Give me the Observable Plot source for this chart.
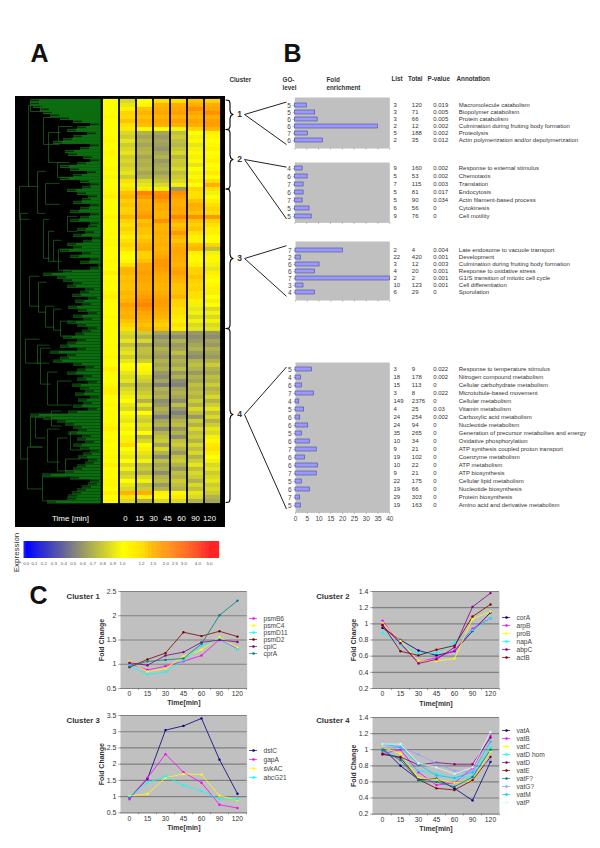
<!DOCTYPE html>
<html>
<head>
<meta charset="utf-8">
<script src="https://cdn.jsdelivr.net/npm/d3@7"></script>
<script src="https://cdn.jsdelivr.net/npm/@observablehq/plot@0.6"></script>
<style>
html,body{margin:0;padding:0;background:#fff;overflow:hidden}
#page{position:relative;width:600px;height:848px;overflow:hidden}
#page>div{position:absolute}
svg{display:block}
</style>
</head>
<body>
<div id="page"></div>
<script>
// ---------- DATA: panel A heat map (fold change, one value per row band) ----------
const times = [0, 15, 30, 45, 60, 90, 120];
const clusterRows = [8, 15, 35, 43];
const t0 = [1,1,1,1,1.05,1,1,1,
  1,1.02,1.05,1,1,1.05,1.02,1,1,1.05,1,.97,1,1,1.02,
  1.05,1.1,1,1,1.02,1,1.08,1,1,1,1.02,1,.98,1.05,1,1,1,1.02,1,1,1.1,1,1.02,1,1,1.05,1.1,1.02,1,1,1,1.05,1,1.02,1,
  1,1,1,1.02,1,1,1.05,1,1,1.1,1.02,1,1,1.05,1.1,1.1,1,1,1.05,1,1.02,1,1,1.05,1.1,1.02,1,1.05,1,1.02,1,1.05,1,1.1,1,1.02,1,1.05,1.05,1,1.1,1,1.05];
const t15 = [.85,.9,1.1,1.3,1.25,1.4,1.2,1.15,
  .85,.8,.9,.8,.85,.9,.8,.85,.8,.85,.9,.8,1.2,.95,1.2,
  1.4,1.5,1.3,1.4,1.3,1.3,1.5,1.3,1.2,1.3,1.2,1.1,1.2,1.3,1.2,1.05,1,1.05,1.2,1.5,1.5,1.4,1.45,1.4,1.4,1.5,1.45,1.5,1.8,1.6,1.5,1.6,1.4,1.3,1.2,
  .85,.8,.9,.75,.85,.9,.8,.9,1,1.05,.9,.85,.9,.75,.85,.9,.95,1,.9,.85,1,.95,.9,1.05,.95,1,.95,1.1,1.25,1,.95,.9,1,.85,.95,.8,.85,1,.9,.85,1.5,1.2,.85];
const t30 = [1,1.05,1.4,1.5,1.4,1.5,1.45,1.05,
  .7,.65,.7,.65,.7,.72,.65,.7,.68,.72,.65,.7,.85,.9,1.1,
  2.2,1.9,1.5,1.6,1.6,1.7,1.9,1.4,1.5,1.4,1.4,1.3,1.4,1.5,1.6,1.3,1.3,1.4,1.7,1.7,1.8,1.7,1.7,1.6,1.6,1.7,1.8,2,2.2,1.9,1.7,1.6,1.5,1.4,1.5,
  .8,.7,.85,.65,.75,.75,.7,.8,1,1.05,.95,.85,.8,.7,.75,.8,.85,.7,.9,.75,1,.85,.8,.9,.85,1,.75,.85,1,1.1,.9,.85,.95,.75,.8,.7,.85,.95,.75,.8,1.6,1.1,.7];
const t45 = [1.2,1.5,1.6,1.7,1.5,1.7,1.6,1,
  .65,.6,.65,.62,.58,.65,.7,.6,.65,.68,.62,.7,.75,.85,.95,
  2,2.2,1.8,1.6,1.6,1.5,1.5,2,1.5,1.5,1.6,1.5,1.5,1.6,1.5,1.6,1.7,1.9,1.9,1.8,1.7,1.6,1.6,1.5,1.5,1.6,1.7,1.8,1.8,1.7,1.6,1.5,1.4,1.3,1.4,
  .65,.55,.65,.6,.7,.65,.6,.7,.65,.7,.6,.55,.65,.5,.7,.65,.7,.55,.6,.7,.65,.5,.65,.7,.55,.7,.75,.8,.65,.85,.7,.55,.75,.65,.7,.55,.7,.75,.6,.7,1.1,1.05,.85];
const t60 = [1.2,1.6,1.7,1.8,1.5,1.8,1.6,.95,
  .75,.8,.75,.72,.78,.85,.72,.8,.78,.85,.75,.8,.85,.95,.6,
  2,1.8,1.6,1.6,1.7,1.6,2.2,1.6,1.4,1.5,1.9,1.5,1.4,1.6,1.7,1.7,1.6,1.6,1.5,1.7,1.8,1.6,1.5,1.4,1.4,1.4,1.5,1.3,1.3,1.2,1.2,1.15,1.1,1.2,1.1,
  .65,.55,.7,.6,.65,.75,.62,.7,.65,.75,.6,.7,.55,.5,.65,.7,.65,.55,.75,.6,.5,.6,.7,.75,.6,.7,.55,.75,.8,.7,.6,.75,.8,.7,.6,.75,.7,.8,.75,.7,1.05,1.15,.85];
const t90 = [1.4,1.6,2,1.7,1.5,1.7,1.6,1.3,
  1,.95,1.05,.9,.95,1.05,.95,1.05,.9,1,.95,1.05,1.15,1,1.3,
  1.2,1.2,1.4,1.6,1.5,1.4,2,1.4,1.3,1.4,1.2,1.1,1.1,1.4,1.5,1.1,1.05,1.05,1.1,1.3,1.3,1.4,1.3,1.25,1.3,1.2,1.2,1.1,.95,.9,.95,.85,.95,.85,.9,
  .6,.55,.6,.65,.7,.6,.55,.7,.75,.7,.6,.7,.65,.75,.7,.75,.7,.8,.7,.85,.75,.6,.8,.7,.85,.75,.8,.7,.85,.75,.85,.7,.8,.9,.75,.85,.8,.7,.85,.75,.9,.85,.7];
const t120 = [1.3,1.6,1.7,2,1.6,1.8,1.8,1.5,
  1.1,1.05,1,1.05,1.1,1,1.05,1.1,1,1.05,1.15,1,1.2,1.6,1.2,
  .95,1,1.1,1.2,1.3,1.2,1.9,1.3,1.2,1.1,1.1,1,1,1.3,.75,.95,1.05,1.05,.95,.9,1.1,1.05,1,1.05,1.1,.95,1,.95,1,.85,.95,.85,.95,.85,.9,
  .6,.55,.65,.6,.7,.65,.6,.7,.8,.7,.65,.75,.7,.8,.7,.75,.85,.7,.8,.9,.75,.85,.7,.8,.9,.85,.95,1.05,1.15,1.2,1.1,1,.95,.85,.9,.8,.85,.9,.8,.85,.8,.7,.65];

// Dendrogram: depth at which each leaf starts
const leafStart = [32,52,53,57,62,67,73,75,55,27,
  50,58,62,70,73,63,68,75,65,58,70,62,67,53,63,58,50,42,28,15,
  53,73,58,68,63,75,60,70,65,57,73,62,68,52,62,70,58,
  38,45,52,35,62,45,52,62,48,60,67,73,62,52,68,58,73,63,53,67,60,73,57,65,70,52,58,48,42,28,
  48,75,83,65,75,55,67,45,58,52,68,77,58,70,62,73,75,55,65,75,
  55,65,75,58,67,73,62,52,67,75,65,45,58,72,55,45,62,75,68,53,50,65,75,38,48,58,72,52,62,75,58,45,35,28,25,18,15,15];
// Dendrogram branches: depth, first leaf, last leaf, length of the arm
const branchDepth = [5,12,27,15,32,42,50,10,22,32,42,25,14,23,30,38,45,28,33,38,43,52,4,13,22,30,33,28,42,43,15,25,20,36,55];
const branchFrom  = [15,5,1,19,14,11,11,47,47,33,33,40,66,64,59,58,56,82,81,81,78,91,95,106,97,100,114,120,109,121,131,131,22,26,18];
const branchTo    = [97,19,9,29,25,22,15,55,53,44,41,52,76,74,66,65,61,95,91,88,85,96,106,133,111,107,124,129,114,126,134,134,29,31,24];
const branchArm   = [8,15,25,12,12,10,15,14,12,10,14,10,10,8,9,8,12,6,6,8,12,10,10,10,8,14,12,16,12,14,12,12,10,10,12];

// Expression legend
const legendTicks = [0,.1,.2,.3,.4,.5,.6,.7,.8,.9,1,1.2,1.5,2,2.5,3,4,5];
const legendLabels = ["0.0","0.1","0.2","0.3","0.4","0.5","0.6","0.7","0.8","0.9","1.0","1.2","1.5","2.0","2.5","3.0","4.0","5.0"];
const colorDomain = [0,.5,1,1.5,2,3,5];
const colorRange = ["#0000ff","#808080","#ffff00","#ffb400","#ff9000","#ff6000","#ff0000"];

// ---------- DATA: panel B enrichment ----------
const goLevel1 = [5,5,6,6,7,6];
const fold1 = [5.1,8.6,9.6,35,5.5,11.9];
const list1 = ["3","3","3","2","5","2"];
const total1 = ["120","71","66","12","188","35"];
const pval1 = ["0.019","0.005","0.005","0.002","0.002","0.012"];
const annot1 = ["Macromolecule catabolism","Biopolymer catabolism","Protein catabolism","Culmination during fruiting body formation","Proteolysis","Actin polymerization and/or depolymerization"];

const goLevel2 = [4,6,7,6,7,5,5];
const fold2 = [3.3,5.4,3.7,3.7,3.3,6.2,7.1];
const list2 = ["9","5","7","5","5","6","9"];
const total2 = ["160","53","115","81","90","56","76"];
const pval2 = ["0.002","0.002","0.003","0.017","0.034","0","0"];
const annot2 = ["Response to external stimulus","Chemotaxis","Translation","Endocytosis","Actin filament-based process","Cytokinesis","Cell motility"];

const goLevel3 = [7,2,6,6,7,3,4];
const fold3 = [20.2,2.4,10.2,8.3,40,3.4,8.3];
const list3 = ["2","22","3","4","2","10","6"];
const total3 = ["4","420","12","20","2","123","29"];
const pval3 = ["0.004","0.001","0.003","0.001","0.001","0.001","0"];
const annot3 = ["Late endosome to vacuole transport","Development","Culmination during fruiting body formation","Response to oxidative stress","G1/S transition of mitotic cell cycle","Cell differentiation","Sporulation"];

const goLevel4 = [5,4,6,7,4,5,6,6,5,6,7,6,6,7,5,6,7,5];
const fold4 = [7,2.4,2.8,7.9,1.6,3.7,2,5.4,2.8,6.2,9,4.1,9.6,9,2.7,6.2,2,2.4];
const list4 = ["3","18","15","3","149","4","24","24","35","10","9","19","10","9","22","19","29","19"];
const total4 = ["9","178","113","8","2376","25","254","94","265","34","21","102","22","21","175","66","303","163"];
const pval4 = ["0.022","0.002","0","0.022","0","0.03","0.002","0","0","0","0","0","0","0","0","0","0","0"];
const annot4 = ["Response to temperature stimulus","Nitrogen compound metabolism","Cellular carbohydrate metabolism","Microtubule-based movement","Cellular metabolism","Vitamin metabolism","Carboxylic acid metabolism","Nucleotide metabolism","Generation of precursor metabolites and energy","Oxidative phosphorylation","ATP synthesis coupled proton transport","Coenzyme metabolism","ATP metabolism","ATP biosynthesis","Cellular lipid metabolism","Nucleotide biosynthesis","Protein biosynthesis","Amino acid and derivative metabolism"];
const foldTicks = [0,5,10,15,20,25,30,35,40];

// ---------- DATA: panel C profiles ----------
const psmB6 = [1.02,.88,.96,1.06,1.18,1.51,1.32];
const psmC4 = [1.06,.85,.91,1.16,1.3,1.56,1.34];
const psmD11 = [.97,.79,.84,1.08,1.38,1.52,1.3];
const psmD2 = [.94,1.1,1.23,1.66,1.58,1.68,1.57];
const cpiC = [1.03,.98,1.18,1.25,1.45,1.5,1.46];
const cprA = [.95,1.06,1.09,1.12,1.42,2.01,2.31];

const corA = [.95,.8,.67,.61,.66,.91,1.14];
const arpB = [1.04,.75,.53,.58,.67,.94,1.07];
const proB = [1.01,.79,.54,.54,.57,1.06,1.15];
const napA = [.89,.74,.63,.64,.77,.92,1.07];
const abpC = [.98,.76,.51,.56,.71,1.21,1.38];
const actB = [.99,.66,.61,.68,.73,1.09,1.24];

const dstC = [.97,1.55,3.05,3.18,3.41,2.14,1.09];
const gapA = [.92,1.58,2.31,1.75,1.43,.75,.65];
const svkAC = [1.03,1.08,1.58,1.7,1.68,1.03,.89];
const abcG21 = [1,1.43,1.63,1.35,1.17,.92,.92];

const vatA = [1.02,.8,.63,.64,.52,.37,.85];
const vatB = [.95,1,.72,.56,.59,.77,1.17];
const vatC = [1.03,.95,.65,.63,.59,.61,.98];
const vatDhom = [.98,.9,.74,.7,.64,.67,1.03];
const vatD = [.94,.91,.81,.84,.82,.82,1.15];
const vatE = [.95,.9,.63,.52,.5,.62,.91];
const vatF = [.99,.87,.62,.6,.54,.66,1];
const vatG = [1.02,1.03,.94,.83,.74,.72,.87];
const vatM = [1.07,1.03,.82,.68,.65,.72,1.1];
const vatP = [1.07,1.07,.83,.78,.7,.78,1.22];

// ---------- LAYOUT ----------
const FONT = "'Liberation Sans', Arial, sans-serif";
const page = document.getElementById("page");
function place(node, left, top) {
  const d = document.createElement("div");
  d.style.left = left + "px"; d.style.top = top + "px";
  d.appendChild(node); page.appendChild(d);
}
const baseStyle = {fontFamily: FONT, background: "transparent", overflow: "visible"};

// Heat map
const heat = {left: 15, top: 96, width: 210, height: 431, colLeft: 100.7, colRight: 223, rowTop: 99, rowBottom: 503.5};
const allCols = [t0, t15, t30, t45, t60, t90, t120];
const heatCells = allCols.flatMap((col, j) => col.map((v, i) => ({time: times[j], row: i, v})));
const colorScale = {type: "linear", domain: colorDomain, range: colorRange, interpolate: "rgb"};

place(Plot.plot({
  width: heat.width, height: heat.height,
  marginLeft: heat.colLeft - heat.left, marginRight: heat.left + heat.width - heat.colRight,
  marginTop: heat.rowTop - heat.top, marginBottom: heat.top + heat.height - heat.rowBottom,
  style: {...baseStyle, background: "#000"},
  x: {type: "band", domain: times, padding: 0.09, align: 0.5, axis: null},
  y: {type: "band", domain: d3.range(t0.length), padding: 0, axis: null},
  color: colorScale,
  marks: [Plot.cell(heatCells, {x: "time", y: "row", fill: "v", stroke: "v", strokeWidth: 0.2})]
}), heat.left, heat.top);

// Dendrogram
const treeW = heat.colLeft - heat.left;
const leaves = leafStart.map((d, i) => ({d, i}));
const branches = branchDepth.map((d, k) => ({d, a: branchFrom[k], b: branchTo[k], arm: branchArm[k]}));
place(Plot.plot({
  width: treeW, height: heat.rowBottom - heat.rowTop,
  margin: 0,
  style: baseStyle,
  x: {domain: [0, treeW], axis: null},
  y: {domain: [0, leafStart.length], axis: null},
  marks: [
    Plot.rect(leaves, {x1: "d", x2: treeW, y1: "i", y2: d => d.i + 1, fill: "#0b6d10"}),
    Plot.rect(leaves, {x1: "d", x2: d => Math.min(treeW, d.d + 9), y1: d => d.i + 0.3, y2: d => d.i + 0.8, fill: "#0a2f0a"}),
    Plot.link(branches, {x1: "d", x2: "d", y1: "a", y2: "b", stroke: "#1f6a22", strokeWidth: 0.7}),
    Plot.link(branches, {x1: "d", x2: d => d.d + d.arm, y1: "a", y2: "a", stroke: "#1f6a22", strokeWidth: 0.7}),
    Plot.link(branches, {x1: "d", x2: d => d.d + d.arm, y1: "b", y2: "b", stroke: "#1f6a22", strokeWidth: 0.7})
  ]
}), heat.left, heat.rowTop);

// Time labels below the heat map
place(Plot.plot({
  width: heat.width, height: 20,
  marginLeft: 101, marginRight: 8, marginTop: 0, marginBottom: 0,
  style: baseStyle,
  x: {type: "point", domain: times, axis: null},
  y: {domain: [0, 1], axis: null},
  marks: [
    Plot.text(times, {x: d => d, frameAnchor: "middle", fill: "#fff", fontSize: 7.8}),
    Plot.text(["Time [min]"], {frameAnchor: "left", dx: -46, textAnchor: "middle", fill: "#fff", fontSize: 8})
  ]
}), heat.left, 508);

// Colour legend
const legendStops = d3.range(-0.1, 5.6, 0.02);
place(Plot.plot({
  width: 230, height: 30,
  marginTop: 0, marginBottom: 0,
  style: baseStyle,
  x: {type: "linear", domain: [-0.08, ...legendTicks, 5.6],
      range: [24, 25.7, 34, 43.3, 53.3, 63.3, 72.7, 82.3, 92.3, 102.3, 112.3, 122, 141, 152.7, 165.3, 174.3, 183.3, 197.3, 209, 219], axis: null},
  y: {domain: [0, 30], range: [0, 30], axis: null},
  color: colorScale,
  marks: [
    Plot.rect(legendStops, {x1: d => d, x2: d => d + 0.03, y1: 0, y2: 17, fill: d => Math.max(0, Math.min(5, d)), clip: true}),
    Plot.text(legendTicks, {x: d => d, y: 22.5, text: (d, i) => legendLabels[i], fontSize: 4.4, fill: "#555"})
  ]
}), 0, 541);

// Panel B bar blocks
const barBlocks = [
  {top: 97.3, bottom: 148.3, left: 294.3, go: goLevel1, fold: fold1, list: list1, total: total1, p: pval1, ann: annot1},
  {top: 162.3, bottom: 222.7, left: 294.3, go: goLevel2, fold: fold2, list: list2, total: total2, p: pval2, ann: annot2},
  {top: 241, bottom: 300, left: 295, go: goLevel3, fold: fold3, list: list3, total: total3, p: pval3, ann: annot3},
  {top: 362.3, bottom: 512.7, left: 295, go: goLevel4, fold: fold4, list: list4, total: total4, p: pval4, ann: annot4, labels: true}
];
const tableRight = 389.3;
barBlocks.forEach(b => {
  const n = b.fold.length;
  const rows = d3.range(n).map(i => ({i, go: b.go[i], fold: b.fold[i], list: b.list[i], total: b.total[i], p: b.p[i], ann: b.ann[i]}));
  const bottomExtra = b.labels ? 14 : 4;
  const left = 270;
  const rowText = (key, dx) => Plot.text(rows, {y: "i", frameAnchor: "right", dx, textAnchor: "start", text: key, fontSize: 6, fill: "#333"});
  place(Plot.plot({
    width: 330, height: b.bottom - b.top + bottomExtra,
    marginLeft: b.left - left, marginRight: 600 - tableRight,
    marginTop: 0, marginBottom: bottomExtra,
    style: baseStyle,
    x: {domain: [0, 40], axis: null},
    y: {type: "band", domain: d3.range(n), padding: 0.5, axis: null},
    marks: [
      Plot.frame({fill: "#c0c0c0", stroke: "none"}),
      Plot.barX(rows, {x: "fold", y: "i", fill: "#9999ff", stroke: "#4a4a90", strokeWidth: 0.6}),
      Plot.axisX({ticks: foldTicks, anchor: "bottom", tickSize: 1.5, tickPadding: 1.5, stroke: "#777", strokeWidth: 0.5,
                  fontSize: 6.5, fill: "#444", tickFormat: b.labels ? d => d : () => "", label: null}),
      Plot.axisY({anchor: "left", tickSize: 1.5, stroke: "#777", strokeWidth: 0.5, tickFormat: () => "", label: null}),
      Plot.text(rows, {y: "i", frameAnchor: "left", dx: -4, textAnchor: "end", text: "go", fontSize: 6.5, fill: "#444"}),
      rowText("list", 3.7),
      rowText("total", 22),
      rowText("p", 43.4),
      rowText("ann", 69)
    ]
  }), left, b.top);
});

// Panel C line charts
const seriesCharts = [
  {title: "Cluster 1", left: 120, right: 246.7, top: 591, bottom: 688, domain: [.5, 2.5], yTicks: [.5, 1, 1.5, 2, 2.5],
   names: ["psmB6","psmC4","psmD11","psmD2","cpiC","cprA"], values: [psmB6,psmC4,psmD11,psmD2,cpiC,cprA],
   colors: ["#ff00ff","#ffff00","#00ffff","#800000","#800080","#008080"], legendTop: 613, legendBottom: 658},
  {title: "Cluster 2", left: 372, right: 499, top: 591, bottom: 688, domain: [.2, 1.4], yTicks: [.2,.4,.6,.8,1,1.2,1.4],
   names: ["corA","arpB","proB","napA","abpC","actB"], values: [corA,arpB,proB,napA,abpC,actB],
   colors: ["#000080","#ff00ff","#ffff00","#00ffff","#800080","#800000"], legendTop: 611, legendBottom: 663},
  {title: "Cluster 3", left: 120, right: 246.7, top: 715.3, bottom: 812.7, domain: [.5, 3.5], yTicks: [.5,1,1.5,2,2.5,3,3.5],
   names: ["dstC","gapA","svkAC","abcG21"], values: [dstC,gapA,svkAC,abcG21],
   colors: ["#000080","#ff00ff","#ffff00","#00ffff"], legendTop: 745, legendBottom: 782},
  {title: "Cluster 4", left: 372, right: 499, top: 716.7, bottom: 813.3, domain: [.2, 1.4], yTicks: [.2,.4,.6,.8,1,1.2,1.4],
   names: ["vatA","vatB","vatC","vatD hom","vatD","vatE","vatF?","vatG?","vatM","vatP"],
   values: [vatA,vatB,vatC,vatDhom,vatD,vatE,vatF,vatG,vatM,vatP],
   colors: ["#000080","#ff00ff","#ffff00","#00ffff","#800080","#800000","#008080","#9999ff","#00ccff","#ccffff"], legendTop: 725, legendBottom: 806}
];
seriesCharts.forEach(c => {
  const mLeft = 24, mBottom = 19, mTop = 3;
  const long = c.names.flatMap((name, s) => c.values[s].map((v, k) => ({name, t: times[k], v, c: c.colors[s]})));
  const w = c.right - c.left;
  const h = c.bottom - c.top;
  const stepX = w / times.length;
  place(Plot.plot({
    width: mLeft + w + 2, height: mTop + h + mBottom,
    marginLeft: mLeft, marginRight: 2, marginTop: mTop, marginBottom: mBottom,
    style: baseStyle,
    x: {type: "point", domain: times, padding: 0.5, axis: null},
    y: {domain: c.domain, axis: null},
    marks: [
      Plot.frame({fill: "#c0c0c0", stroke: "none"}),
      Plot.gridY(c.yTicks, {stroke: "#808080", strokeOpacity: 1, strokeWidth: 1.2}),
      Plot.axisX({tickSize: 0, tickPadding: 3, fontSize: 6.8, fill: "#333", label: null, stroke: "none"}),
      Plot.axisX({tickSize: 2, dx: stepX / 2, tickFormat: () => "", label: null, stroke: "#555", strokeWidth: 0.5}),
      Plot.axisY({ticks: c.yTicks, tickSize: 2, tickPadding: 2, fontSize: 7, fill: "#333", tickFormat: d => String(d), label: null, stroke: "#555", strokeWidth: 0.5}),
      ...c.names.map((name, s) => Plot.line(long.filter(d => d.name === name), {x: "t", y: "v", stroke: c.colors[s], strokeWidth: 0.8})),
      Plot.dot(long, {x: "t", y: "v", r: 1.2, fill: "c", stroke: "none"}),
      Plot.text(["Time[min]"], {frameAnchor: "bottom", dy: 17, lineAnchor: "bottom", fontSize: 7, fontWeight: "bold", fill: "#333"}),
      Plot.text(["Fold Change"], {frameAnchor: "left", dx: -19, rotate: -90, textAnchor: "middle", fontSize: 7, fontWeight: "bold", fill: "#333"})
    ]
  }), c.left - mLeft, c.top - mTop);

  // series legend as a small plot of its own
  place(Plot.plot({
    width: 60, height: c.legendBottom - c.legendTop + 8,
    margin: 0, marginTop: 4, marginBottom: 4,
    style: baseStyle,
    x: {domain: [0, 60], axis: null},
    y: {type: "point", domain: c.names, axis: null},
    marks: [
      Plot.ruleY(c.names, {y: d => d, x1: 2, x2: 10, stroke: (d, i) => c.colors[i], strokeWidth: 0.7}),
      Plot.dot(c.names, {y: d => d, x: 6, r: 1.3, fill: (d, i) => c.colors[i]}),
      Plot.text(c.names, {y: d => d, x: 16, textAnchor: "start", fontSize: 6.6, fill: "#444"})
    ]
  }), c.right + 0.5, c.legendTop - 4);
});

// Page-level overlay: letters, headers, cluster braces and connectors
const bandCentre = (b, i) => {
  const step = (b.bottom - b.top) / b.fold.length;
  return b.top + step * (i + 0.5);
};
const clusterLabelY = [114, 159, 258, 414];
const braceSpineX = 229.5, braceEndX = 225.5, braceTipX = 232.5;
const braceY = [99.5, 129, 188.5, 328, 502];
const braces = clusterLabelY.map((tip, c) => {
  const a = braceY[c], b = braceY[c + 1];
  return [
    [braceEndX, a], [braceSpineX - 1, a + 0.5], [braceSpineX, a + 3], [braceSpineX, tip - 4], [braceSpineX + 1, tip - 1], [braceTipX, tip],
    [braceSpineX + 1, tip + 1], [braceSpineX, tip + 4], [braceSpineX, b - 3], [braceSpineX - 1, b - 0.5], [braceEndX, b]
  ].map(([x, y]) => ({x, y, c}));
}).flat();
const connectors = barBlocks.flatMap((b, c) => [
  {x1: 244, y1: clusterLabelY[c], x2: 286, y2: bandCentre(b, 0)},
  {x1: 244, y1: clusterLabelY[c], x2: 286, y2: bandCentre(b, b.fold.length - 1)}
]);
const smallHeads = [
  {t: "Cluster", x: 229, y: 79.5}, {t: "GO-", x: 282, y: 79.5}, {t: "level", x: 282, y: 87.5},
  {t: "Fold", x: 326, y: 79.5}, {t: "enrichment", x: 326, y: 87.5},
  {t: "List", x: 391, y: 78.5}, {t: "Total", x: 407.5, y: 78.5}, {t: "P-value", x: 427, y: 78.5}, {t: "Annotation", x: 456, y: 78.5}
];
const bigHeads = [{t: "A", x: 30, y: 53}, {t: "B", x: 283, y: 53}, {t: "C", x: 29, y: 595}];
const clusterTitles = seriesCharts.map((c, i) => ({t: c.title, x: i % 2 ? 315.7 : 66, y: i < 2 ? 595.5 : 720}));
place(Plot.plot({
  width: 600, height: 848, margin: 0,
  style: {...baseStyle, pointerEvents: "none"},
  x: {domain: [0, 600], range: [0, 600], axis: null},
  y: {domain: [0, 848], range: [0, 848], axis: null},
  marks: [
    Plot.line(braces, {x: "x", y: "y", z: "c", stroke: "#000", strokeWidth: 1.1, curve: "linear"}),
    Plot.link(connectors, {x1: "x1", y1: "y1", x2: "x2", y2: "y2", stroke: "#222", strokeWidth: 1}),
    Plot.text(clusterLabelY, {x: 239, y: d => d, text: (d, i) => String(i + 1), fontSize: 8.5, fontWeight: "bold", fill: "#333"}),
    Plot.text(smallHeads, {x: "x", y: "y", text: "t", textAnchor: "start", fontSize: 6.3, fontWeight: "bold", fill: "#333"}),
    Plot.text(bigHeads, {x: "x", y: "y", text: "t", textAnchor: "start", fontSize: 25, fontWeight: "bold", fill: "#111"}),
    Plot.text(clusterTitles, {x: "x", y: "y", text: "t", textAnchor: "start", fontSize: 7.8, fontWeight: "bold", fill: "#333"}),
    Plot.text(["Expression"], {x: 15.5, y: 552, rotate: -90, fontSize: 8, fill: "#333"})
  ]
}), 0, 0);
</script>
</body>
</html>
